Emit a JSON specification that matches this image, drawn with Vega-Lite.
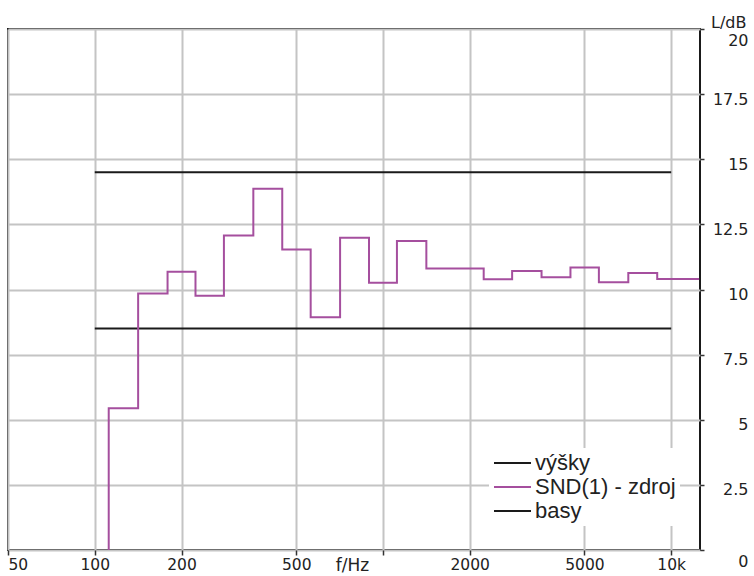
{
  "$schema": "https://vega.github.io/schema/vega-lite/v6.json",
  "width": 692,
  "height": 521,
  "autosize": {"type": "none"},
  "padding": {"left": 8, "top": 29, "right": 54, "bottom": 26},
  "background": "white",
  "config": {
    "view": {"stroke": "#1a1a1a", "strokeWidth": 2},
    "axis": {
      "labelFont": "DejaVu Sans",
      "labelFontSize": 15.5,
      "labelColor": "#222222",
      "titleFont": "DejaVu Sans",
      "titleFontWeight": "normal",
      "titleColor": "#222222",
      "gridColor": "#c4c4c4",
      "gridWidth": 2,
      "tickColor": "#333333",
      "tickWidth": 1.5,
      "domain": false,
      "labelOverlap": false
    },
    "legend": {
      "labelFont": "Liberation Sans",
      "labelFontSize": 22,
      "labelColor": "#222222"
    }
  },
  "data": {
    "values": [
      {"series": "výšky", "f": 100, "L": 14.5},
      {"series": "výšky", "f": 10000, "L": 14.5},
      {"series": "basy", "f": 100, "L": 8.5},
      {"series": "basy", "f": 10000, "L": 8.5},
      {"series": "SND(1) - zdroj", "f": 100, "L": -5},
      {"series": "SND(1) - zdroj", "f": 125, "L": 5.44},
      {"series": "SND(1) - zdroj", "f": 160, "L": 9.85},
      {"series": "SND(1) - zdroj", "f": 200, "L": 10.68},
      {"series": "SND(1) - zdroj", "f": 250, "L": 9.76},
      {"series": "SND(1) - zdroj", "f": 315, "L": 12.07},
      {"series": "SND(1) - zdroj", "f": 400, "L": 13.87},
      {"series": "SND(1) - zdroj", "f": 500, "L": 11.54},
      {"series": "SND(1) - zdroj", "f": 630, "L": 8.93},
      {"series": "SND(1) - zdroj", "f": 800, "L": 11.99},
      {"series": "SND(1) - zdroj", "f": 1000, "L": 10.26},
      {"series": "SND(1) - zdroj", "f": 1250, "L": 11.86},
      {"series": "SND(1) - zdroj", "f": 1600, "L": 10.81},
      {"series": "SND(1) - zdroj", "f": 2000, "L": 10.81},
      {"series": "SND(1) - zdroj", "f": 2500, "L": 10.39},
      {"series": "SND(1) - zdroj", "f": 3150, "L": 10.71},
      {"series": "SND(1) - zdroj", "f": 4000, "L": 10.47},
      {"series": "SND(1) - zdroj", "f": 5000, "L": 10.84},
      {"series": "SND(1) - zdroj", "f": 6300, "L": 10.28},
      {"series": "SND(1) - zdroj", "f": 8000, "L": 10.63},
      {"series": "SND(1) - zdroj", "f": 10000, "L": 10.4},
      {"series": "SND(1) - zdroj", "f": 12500, "L": 10.4}
    ]
  },
  "mark": {"type": "line", "interpolate": "step", "strokeWidth": 2, "clip": true},
  "encoding": {
    "x": {
      "field": "f",
      "type": "quantitative",
      "scale": {"type": "log", "domain": [50, 12589], "nice": false},
      "axis": {
        "values": [50, 100, 200, 500, 1000, 2000, 5000, 10000],
        "labelExpr": "datum.value == 1000 ? '' : (datum.value == 10000 ? '10k' : format(datum.value, 'd'))",
        "labelFlush": true,
        "tickSize": 5,
        "labelPadding": 2,
        "title": "f/Hz",
        "titleFontSize": 17,
        "titleX": 344,
        "titleY": 7,
        "titleAlign": "center",
        "titleBaseline": "top"
      }
    },
    "y": {
      "field": "L",
      "type": "quantitative",
      "scale": {"domain": [0, 20], "nice": false},
      "axis": {
        "orient": "right",
        "values": [0, 2.5, 5, 7.5, 10, 12.5, 15, 17.5, 20],
        "labelExpr": "'' + datum.value",
        "labelFontSize": 16,
        "tickSize": 4,
        "labelAlign": "right",
        "labelPadding": 44,
        "labelBaseline": "middle",
        "labelOffset": {"condition": {"test": "datum.value === 0 || datum.value === 20", "value": 11}, "value": 5},
        "title": "L/dB",
        "titleFontSize": 16,
        "titleAngle": 0,
        "titleX": 46,
        "titleY": -2,
        "titleAlign": "right",
        "titleBaseline": "alphabetic"
      }
    },
    "color": {
      "field": "series",
      "type": "nominal",
      "scale": {
        "domain": ["výšky", "SND(1) - zdroj", "basy"],
        "range": ["#1a1a1a", "#a54f9e", "#1a1a1a"]
      },
      "legend": {
        "title": null,
        "orient": "none",
        "legendX": 481,
        "legendY": 419,
        "fillColor": "white",
        "padding": 4,
        "symbolType": "stroke",
        "symbolSize": 1369,
        "symbolStrokeWidth": 2,
        "labelOffset": 3,
        "clipHeight": 22,
        "rowPadding": 2
      }
    }
  }
}
